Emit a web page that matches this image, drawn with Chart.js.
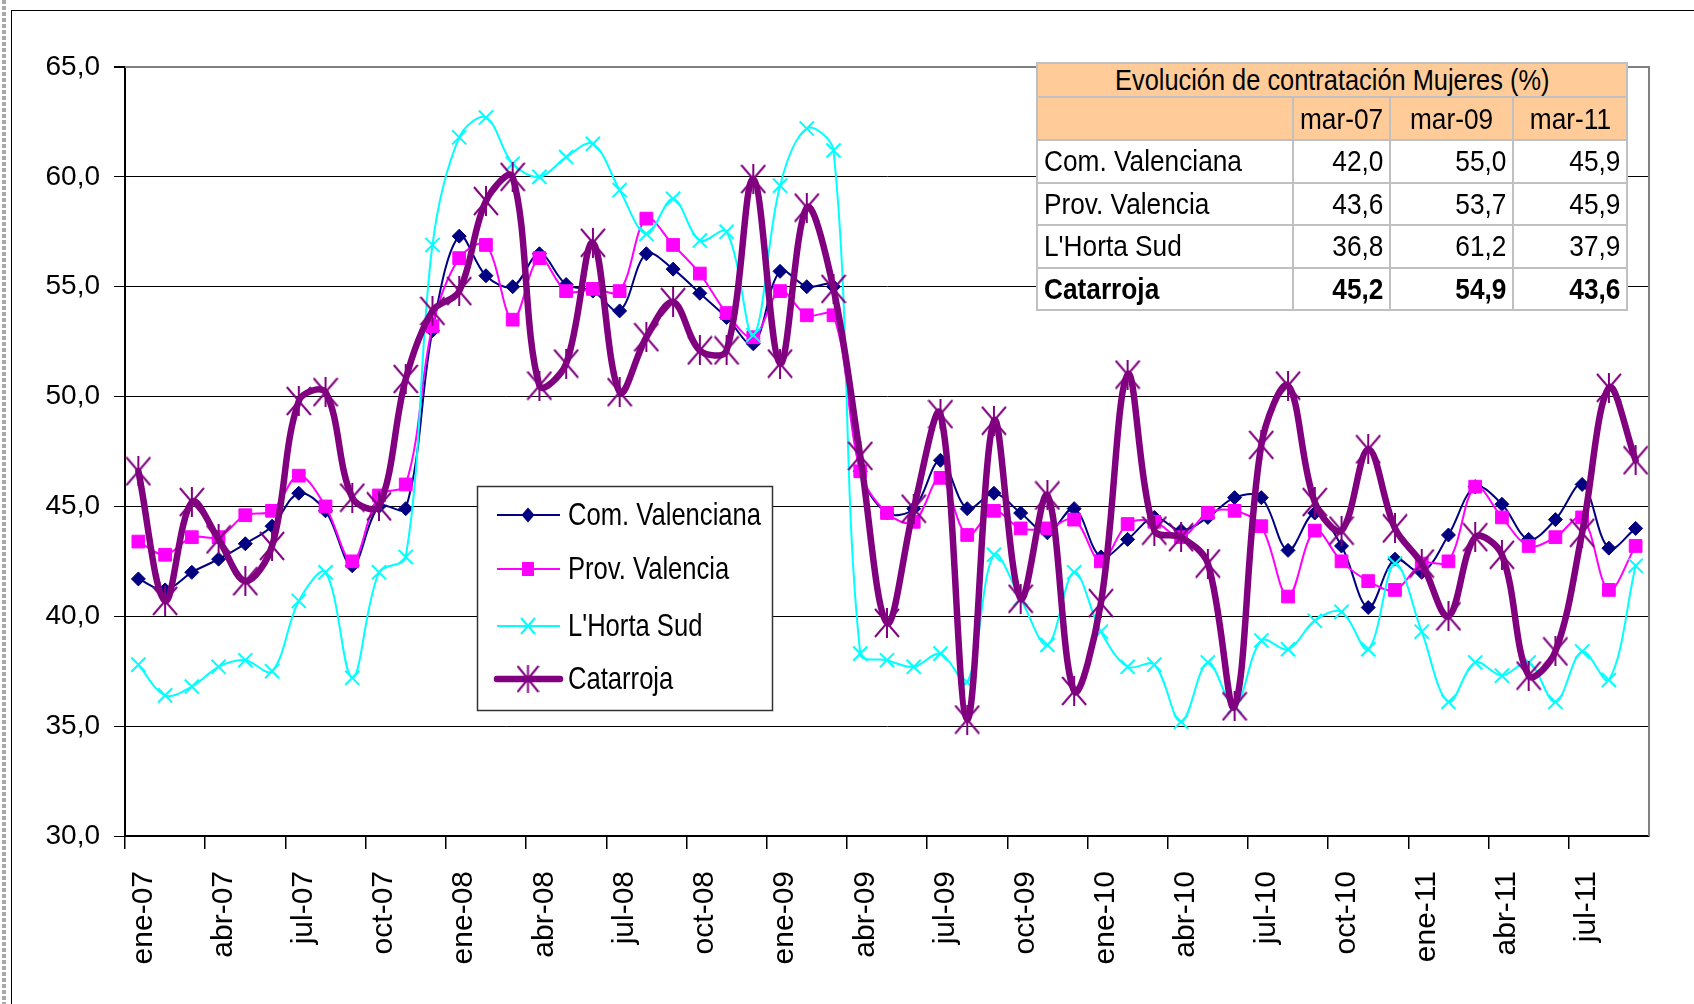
<!DOCTYPE html>
<html>
<head>
<meta charset="utf-8">
<script src="https://cdn.jsdelivr.net/npm/chart.js@4.4.0/dist/chart.umd.min.js"></script>
<style>
  body { margin: 0; background: #fff; }
  #wrap { position: relative; width: 1694px; height: 1004px; overflow: hidden; background: #fff; }
  #grafico { position: absolute; left: 0; top: 0; }
  #marco { position: absolute; left: 11px; top: 10px; width: 1700px; height: 1000px;
           border-top: 1.5px solid #000; border-left: 1.5px solid #000; pointer-events: none; }
  #puntos { position: absolute; left: 2px; top: 0; width: 4px; height: 1004px;
            background: repeating-linear-gradient(to bottom, #a8a8a8 0 4px, transparent 4px 6px); }
  #tabla { position: absolute; left: 1036px; top: 62px; width: 590px; border-collapse: collapse;
           table-layout: fixed; font-family: 'Liberation Sans', Arial, sans-serif;
           font-size: 30px; color: #000; }
  #tabla td { border: 2px solid #c0c0c0; padding: 0 6px; white-space: nowrap; overflow: hidden; line-height: 1; height: 40.5px; background: #fff; }
  #tabla td span { display: inline-block; transform: scaleX(0.875); transform-origin: left center; }
  #tabla tr.enc td { background: #ffcc99; height: 41px; }
  #tabla tr.tit td { height: 32px; text-align: center; font-size: 29px; }
  #tabla tr.tit td span, #tabla td.c span { transform-origin: center center; }
  #tabla td.c { text-align: center; padding: 0; }
  #tabla td.n { text-align: right; }
  #tabla td.n span { transform-origin: right center; }
  #tabla tr.neg td { font-weight: bold; }
</style>
</head>
<body>
<div id="wrap">
  <canvas id="grafico" width="1694" height="1004"></canvas>
  <div id="puntos"></div>
  <div id="marco"></div>
  <table id="tabla">
    <colgroup><col style="width:256px"><col style="width:97px"><col style="width:123px"><col style="width:114px"></colgroup>
    <tbody id="cuerpo"></tbody>
  </table>
</div>
<script>
// meses ene-07 ... sep-11
var meses = [
  "ene-07","feb-07","mar-07","abr-07","may-07","jun-07","jul-07","ago-07","sep-07","oct-07","nov-07","dic-07",
  "ene-08","feb-08","mar-08","abr-08","may-08","jun-08","jul-08","ago-08","sep-08","oct-08","nov-08","dic-08",
  "ene-09","feb-09","mar-09","abr-09","may-09","jun-09","jul-09","ago-09","sep-09","oct-09","nov-09","dic-09",
  "ene-10","feb-10","mar-10","abr-10","may-10","jun-10","jul-10","ago-10","sep-10","oct-10","nov-10","dic-10",
  "ene-11","feb-11","mar-11","abr-11","may-11","jun-11","jul-11","ago-11","sep-11"
];

var comValenciana = [41.7,41.2,42.0,42.6,43.3,44.1,45.6,44.8,42.3,45.0,44.9,53.0,57.3,55.5,55.0,56.5,55.1,54.8,53.9,56.5,
  55.8,54.7,53.6,52.4,55.7,55.0,55.0,46.6,44.7,44.9,47.1,44.9,45.6,44.7,43.8,44.9,42.7,43.5,44.5,43.9,
  44.5,45.4,45.4,43.0,44.7,43.2,40.4,42.6,42.0,43.7,45.9,45.1,43.5,44.4,46.0,43.1,44.0];

var provValencia = [43.4,42.8,43.6,43.6,44.6,44.8,46.4,45.0,42.5,45.5,46.0,53.2,56.3,56.9,53.5,56.3,54.8,54.9,54.8,58.1,
  56.9,55.6,53.8,52.7,54.8,53.7,53.7,46.6,44.7,44.3,46.3,43.7,44.8,44.0,44.0,44.4,42.5,44.2,44.3,43.6,
  44.7,44.8,44.1,40.9,43.9,42.5,41.6,41.2,42.4,42.5,45.9,44.5,43.2,43.6,44.5,41.2,43.2];

var hortaSud = [37.8,36.4,36.8,37.7,38.0,37.5,40.7,42.0,37.2,42.0,42.7,56.9,61.8,62.7,60.6,60.0,60.9,61.5,59.4,57.4,
  59.0,57.1,57.5,52.8,59.6,62.2,61.2,38.3,38.0,37.7,38.3,37.0,42.8,40.8,38.7,42.0,39.3,37.7,37.8,35.2,
  37.9,35.9,38.9,38.5,39.8,40.2,38.5,42.4,39.3,36.1,37.9,37.3,37.9,36.1,38.4,37.1,42.3];

var catarroja = [46.6,40.7,45.2,43.5,41.6,43.2,49.8,50.2,45.4,45.0,50.8,53.9,54.8,58.9,60.0,50.5,51.5,57.0,50.2,52.7,
  54.3,52.1,52.1,59.9,51.5,58.6,54.9,47.3,39.7,44.9,49.2,35.3,48.9,40.8,45.5,36.6,40.6,51.0,43.9,43.6,
  42.4,35.9,47.8,50.5,45.2,43.9,47.6,44.0,42.4,40.0,43.6,42.8,37.3,38.4,43.8,50.4,47.1];

// tabla resumen
var tablaTitulo = "Evolución de contratación Mujeres (%)";
var tablaFechas = ["mar-07", "mar-09", "mar-11"];
var tablaZonas = ["Com. Valenciana", "Prov. Valencia", "L'Horta Sud", "Catarroja"];
var tablaValores = [
  [42.0, 55.0, 45.9],
  [43.6, 53.7, 45.9],
  [36.8, 61.2, 37.9],
  [45.2, 54.9, 43.6]
];

var ejeY = { min: 30, max: 65, paso: 5 };

var FUENTE = "'Liberation Sans', Arial, sans-serif";

function coma(v) { return v.toFixed(1).replace(".", ","); }
function sp(t) { return "<span>" + t + "</span>"; }

// tabla
var cuerpo = document.getElementById("cuerpo");
var html = '<tr class="enc tit"><td colspan="4">' + sp(tablaTitulo) + '</td></tr>';
html += '<tr class="enc"><td></td>' + tablaFechas.map(function (f) { return '<td class="c">' + sp(f) + '</td>'; }).join("") + '</tr>';
tablaZonas.forEach(function (z, i) {
  html += '<tr' + (i === tablaZonas.length - 1 ? ' class="neg"' : '') + '><td>' + sp(z) + '</td>' +
    tablaValores[i].map(function (v) { return '<td class="n">' + sp(coma(v)) + '</td>'; }).join("") + '</tr>';
});
cuerpo.innerHTML = html;

// marcador asterisco (estilo excel)
function hacerEstrella(w, h, lw) {
  var c = document.createElement("canvas");
  c.width = w; c.height = h;
  var g = c.getContext("2d");
  g.strokeStyle = "#800080";
  g.lineWidth = lw;
  g.beginPath();
  g.moveTo(1, 1); g.lineTo(w - 1, h - 1);
  g.moveTo(w - 1, 1); g.lineTo(1, h - 1);
  g.moveTo(w / 2, 0); g.lineTo(w / 2, h);
  g.stroke();
  return c;
}
var estrella = hacerEstrella(26, 30, 2);
var estrellaLeyenda = hacerEstrella(23, 28, 2);

function marcador(ctx, tipo, color, x, y) {
  ctx.save();
  ctx.fillStyle = color;
  ctx.strokeStyle = color;
  ctx.beginPath();
  if (tipo === "rombo") {
    ctx.moveTo(x, y - 7.5); ctx.lineTo(x + 6.5, y); ctx.lineTo(x, y + 7.5); ctx.lineTo(x - 6.5, y); ctx.closePath();
    ctx.fill();
  } else if (tipo === "cuadro") {
    ctx.fillRect(x - 6, y - 7, 12, 14);
  } else if (tipo === "x") {
    ctx.lineWidth = 2;
    ctx.moveTo(x - 7, y - 8); ctx.lineTo(x + 7, y + 8);
    ctx.moveTo(x + 7, y - 8); ctx.lineTo(x - 7, y + 8);
    ctx.stroke();
  } else {
    ctx.drawImage(estrellaLeyenda, x - estrellaLeyenda.width / 2, y - estrellaLeyenda.height / 2);
  }
  ctx.restore();
}

var leyenda = {
  id: "leyenda",
  afterDraw: function (chart) {
    var ctx = chart.ctx;
    var caja = { x: 477, y: 486, w: 295, h: 224 };
    var filas = [515, 569, 626, 679];
    var tipos = ["rombo", "cuadro", "x", "estrella"];
    ctx.save();
    ctx.fillStyle = "#fff";
    ctx.fillRect(caja.x, caja.y, caja.w, caja.h);
    ctx.strokeStyle = "#333";
    ctx.lineWidth = 1.5;
    ctx.strokeRect(caja.x + 0.5, caja.y + 0.5, caja.w, caja.h);
    chart.data.datasets.forEach(function (ds, i) {
      var y = filas[i];
      ctx.strokeStyle = ds.borderColor;
      ctx.lineWidth = ds.borderWidth;
      ctx.lineCap = ds.borderWidth > 3 ? "round" : "butt";
      ctx.beginPath(); ctx.moveTo(497, y); ctx.lineTo(560, y); ctx.stroke();
      marcador(ctx, tipos[i], ds.borderColor, 528, y);
      // texto estrecho como en el original
      ctx.save();
      ctx.translate(568, y + 1);
      ctx.scale(0.8, 1);
      ctx.font = "32px " + FUENTE;
      ctx.textBaseline = "middle";
      ctx.fillStyle = "#000";
      ctx.fillText(ds.label, 0, 0);
      ctx.restore();
    });
    ctx.restore();
  }
};

var bordeArea = {
  id: "bordeArea",
  afterDatasetsDraw: function (chart) {
    var a = chart.chartArea, ctx = chart.ctx;
    ctx.save();
    ctx.strokeStyle = "#808080";
    ctx.lineWidth = 2;
    ctx.beginPath();
    ctx.moveTo(a.left, a.top); ctx.lineTo(a.right, a.top); ctx.lineTo(a.right, a.bottom);
    ctx.stroke();
    ctx.restore();
  }
};

var ctx = document.getElementById("grafico").getContext("2d");
var grafico = new Chart(ctx, {
  type: "line",
  data: {
    labels: meses,
    datasets: [
      {
        label: "Com. Valenciana",
        data: comValenciana,
        borderColor: "#000080",
        backgroundColor: "#000080",
        borderWidth: 2,
        pointStyle: "rectRot",
        pointRadius: 7,
        pointBorderWidth: 1,
        tension: 0.35,
        order: 4,
      },
      {
        label: "Prov. Valencia",
        data: provValencia,
        borderColor: "#ff00ff",
        backgroundColor: "#ff00ff",
        borderWidth: 2,
        pointStyle: "rect",
        pointRadius: 9,
        pointBorderWidth: 1,
        tension: 0.35,
        order: 3,
      },
      {
        label: "L'Horta Sud",
        data: hortaSud,
        borderColor: "#00ffff",
        backgroundColor: "#00ffff",
        borderWidth: 2,
        pointStyle: "crossRot",
        pointRadius: 10,
        pointBorderWidth: 2,
        tension: 0.35,
        order: 2,
      },
      {
        label: "Catarroja",
        data: catarroja,
        borderColor: "#800080",
        backgroundColor: "#800080",
        borderWidth: 6.5,
        borderJoinStyle: "round",
        borderCapStyle: "round",
        pointStyle: estrella,
        pointRadius: 13,
        tension: 0.35,
        order: 1,
      },
    ],
  },
  options: {
    responsive: false,
    animation: false,
    devicePixelRatio: 1,
    layout: { padding: { left: 0, top: 67, right: 44, bottom: 0 } },
    scales: {
      x: {
        type: "category",
        offset: true,
        afterFit: function (s) { s.height = 168; },
        grid: {
          offset: true,
          drawOnChartArea: false,
          tickLength: 13,
          lineWidth: 1.5,
          color: function (c) { return c.index % 3 === 0 ? "#000" : "rgba(0,0,0,0)"; },
        },
        border: { color: "#000", width: 2 },
        ticks: {
          autoSkip: false,
          maxRotation: 90,
          minRotation: 90,
          padding: 22,
          labelOffset: 5,
          color: "#000",
          font: { family: FUENTE, size: 30 },
          callback: function (v, i) { return i % 3 === 0 ? meses[i] : ""; },
        },
      },
      y: {
        min: ejeY.min,
        max: ejeY.max,
        afterFit: function (s) { s.width = 125; },
        grid: {
          color: function (c) { return c.tick && c.tick.value === ejeY.max ? "#808080" : "#000"; },
          lineWidth: function (c) { return c.tick && c.tick.value === ejeY.max ? 2 : 1; },
          tickColor: "#000",
          tickLength: 11,
        },
        border: { color: "#000", width: 2 },
        ticks: {
          stepSize: ejeY.paso,
          padding: 14,
          color: "#000",
          font: { family: FUENTE, size: 28 },
          callback: function (v) { return coma(v); },
        },
      },
    },
    plugins: {
      legend: { display: false },
      tooltip: { enabled: false },
    },
  },
  plugins: [bordeArea, leyenda],
});
</script>
</body>
</html>
